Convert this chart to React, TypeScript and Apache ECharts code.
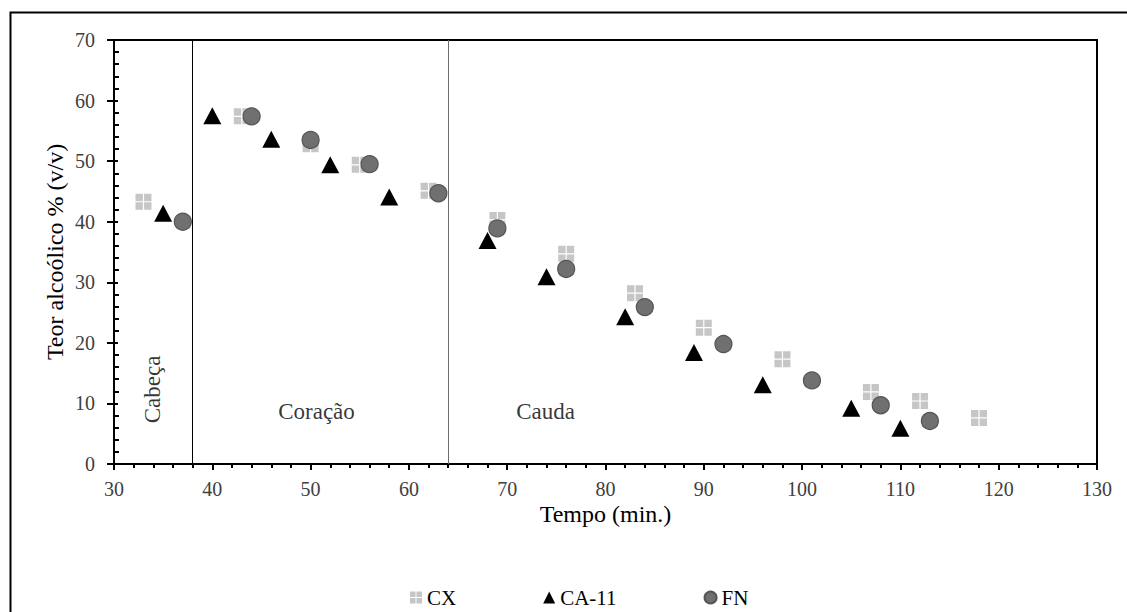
import React, { useEffect, useRef } from "react";
import * as echarts from "echarts";

const cxData: [number, number][] = [
  [33, 43.3], [43, 57.4], [50, 52.8], [55, 49.4], [62, 45.1], [69, 40.3], [76, 34.7],
  [83, 28.2], [90, 22.5], [98, 17.3], [107, 11.9], [112, 10.4], [118, 7.6],
];
const ca11Data: [number, number][] = [
  [35, 41.4], [40, 57.5], [46, 53.6], [52, 49.4], [58, 44.1], [68, 36.9], [74, 30.9],
  [82, 24.3], [89, 18.4], [96, 13.1], [105, 9.2], [110, 5.9],
];
const fnData: [number, number][] = [
  [37, 40.0], [44, 57.4], [50, 53.5], [56, 49.5], [63, 44.7], [69, 38.9], [76, 32.2],
  [84, 25.9], [92, 19.8], [101, 13.8], [108, 9.7], [113, 7.1],
];
const phaseBoundaries = [38, 64];
const phaseLabels: { name: string; x: number; y: number; rotate: number }[] = [
  { name: "Cabeça", x: 33.9, y: 12.3, rotate: 90 },
  { name: "Coração", x: 50.6, y: 8.7, rotate: 0 },
  { name: "Cauda", x: 73.9, y: 8.7, rotate: 0 },
];

const FONT = "'Liberation Serif', 'DejaVu Serif', serif";
const squarePath = "path://M0,0h7.4v7.4h-7.4z M8.6,0h7.4v7.4h-7.4z M0,8.6h7.4v7.4h-7.4z M8.6,8.6h7.4v7.4h-7.4z";

export default function App() {
  const ref = useRef<HTMLDivElement>(null);
  useEffect(() => {
    if (!ref.current) return;
    const chart = echarts.init(ref.current, null, { renderer: "svg" });
    chart.setOption({
      animation: false,
      backgroundColor: "#fff",
      textStyle: { fontFamily: FONT },
      graphic: [
        {
          type: "rect",
          shape: { x: 10.5, y: 12.5, width: 1200, height: 700 },
          style: { fill: "none", stroke: "#000", lineWidth: 2 },
          silent: true,
        },
      ],
      grid: {
        left: 114, top: 40, right: 30, bottom: 148,
        show: true, borderColor: "#000", borderWidth: 2, backgroundColor: "transparent",
      },
      legend: {
        left: 405, top: 582,
        itemWidth: 12, itemHeight: 12, itemGap: 87,
        data: [
          { name: "CX", icon: squarePath, itemStyle: { color: "#c6c6c6" } },
          { name: "CA-11", icon: "triangle" },
          { name: "FN", icon: "circle" },
        ],
        textStyle: { fontFamily: FONT, fontSize: 21, color: "#000", padding: [0, 0, 0, 0] },
      },
      xAxis: {
        type: "value", min: 30, max: 130, interval: 10,
        name: "Tempo (min.)", nameLocation: "middle", nameGap: 38, nameMoveOverlap: false,
        nameTextStyle: { fontFamily: FONT, fontSize: 24, color: "#000" },
        axisLine: { show: true, lineStyle: { color: "#000", width: 2 } },
        axisTick: { show: true, length: 6, lineStyle: { color: "#000", width: 2 } },
        minorTick: { show: true, splitNumber: 5, length: 4, lineStyle: { color: "#000", width: 2 } },
        axisLabel: { fontFamily: FONT, fontSize: 20, color: "#404040", margin: 15 },
        splitLine: { show: false },
      },
      yAxis: [
        {
          type: "value", min: 0, max: 70, interval: 10, position: "left",
          name: "Teor alcoólico % (v/v)", nameLocation: "middle", nameGap: 47, nameMoveOverlap: false,
          nameTextStyle: { fontFamily: FONT, fontSize: 24, color: "#000" },
          axisLine: { show: true, lineStyle: { color: "#000", width: 2 } },
          axisTick: { show: true, length: 7, lineStyle: { color: "#000", width: 2 } },
          axisLabel: { fontFamily: FONT, fontSize: 20, color: "#404040", margin: 19 },
          splitLine: { show: false },
        },
        {
          type: "value", min: 0, max: 70, interval: 10, position: "left",
          axisLine: { show: false },
          axisTick: { show: true, inside: true, length: 4, lineStyle: { color: "#000", width: 2 } },
          minorTick: { show: true, splitNumber: 5, length: 5, lineStyle: { color: "#000", width: 2 } },
          axisLabel: { show: false },
          splitLine: { show: false },
        },
      ],
      series: [
        {
          name: "CX", type: "scatter", data: cxData, symbol: squarePath, symbolSize: 16,
          itemStyle: { color: "#c6c6c6", opacity: 1 }, z: 2,
          markLine: {
            silent: true, symbol: "none", label: { show: false },
            data: phaseBoundaries.map((x, i) => ({
              xAxis: x,
              lineStyle: { color: i === 0 ? "#000" : "#6e6e6e", width: 1, type: "solid" },
            })),
          },
        },
        {
          name: "CA-11", type: "scatter", data: ca11Data, symbol: "triangle", symbolSize: [18, 17],
          itemStyle: { color: "#000", opacity: 1 }, z: 3,
        },
        {
          name: "FN", type: "scatter", data: fnData, symbol: "circle", symbolSize: 17,
          itemStyle: { color: "#707070", borderColor: "#555", borderWidth: 1.2, opacity: 1 }, z: 4,
        },
        {
          name: "phases", type: "scatter", silent: true, symbolSize: 0,
          data: phaseLabels.map((p) => ({
            value: [p.x, p.y],
            label: {
              show: true, position: "inside", formatter: p.name, rotate: p.rotate,
              fontFamily: FONT, fontSize: 23, color: "#000",
            },
          })),
        },
      ],
    });
    return () => chart.dispose();
  }, []);
  return (
    <div
      ref={ref}
      style={{ position: "fixed", left: 0, top: 0, width: 1127, height: 612 }}
    />
  );
}
